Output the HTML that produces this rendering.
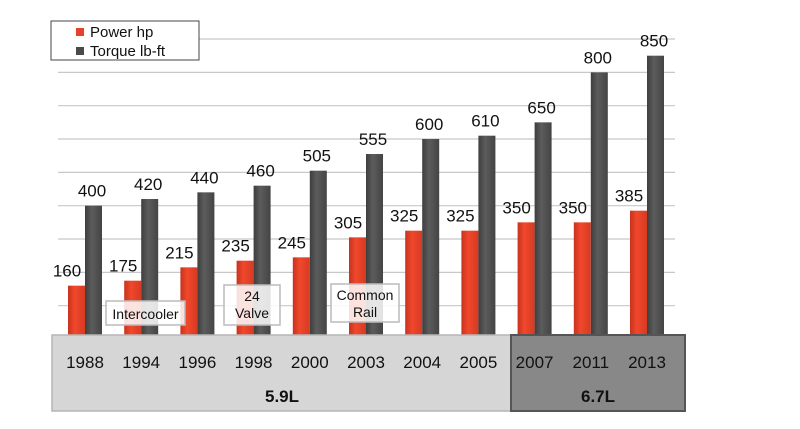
<!DOCTYPE html>
<html><head><meta charset="utf-8"><style>
body{margin:0;background:#fff;}
svg{display:block;font-family:"Liberation Sans",Arial,sans-serif;}
</style></head><body>
<svg id="c" width="800" height="429" viewBox="0 0 800 429">
<defs>
<linearGradient id="gr" x1="0" x2="1"><stop offset="0" stop-color="#c8321e"/><stop offset="0.4" stop-color="#f0482c"/><stop offset="1" stop-color="#d63a22"/></linearGradient>
<linearGradient id="gg" x1="0" x2="1"><stop offset="0" stop-color="#3e3e3e"/><stop offset="0.4" stop-color="#5c5c5c"/><stop offset="1" stop-color="#444"/></linearGradient>
</defs>
<g id="grid"></g>
<g id="bars"></g>
<g id="labels"></g>
</svg>
<script>
const categories=["1988","1994","1996","1998","2000","2003","2004","2005","2007","2011","2013"];
const power=[160,175,215,235,245,305,325,325,350,350,385];
const torque=[400,420,440,460,505,555,600,610,650,800,850];
const yTicks=[0,100,200,300,400,500,600,700,800,900];
const NS="http://www.w3.org/2000/svg";
const svg=document.getElementById('c');
const base=339,unit=0.3333;
function y(v){return base-v*unit;}
function x(i){return 85+i*56.2;}
function mk(tag,attrs,parent,txt){const e=document.createElementNS(NS,tag);for(const k in attrs)e.setAttribute(k,attrs[k]);if(txt!==undefined)e.textContent=txt;(parent||svg).appendChild(e);return e;}
const grid=document.getElementById('grid'),bars=document.getElementById('bars'),labels=document.getElementById('labels');
yTicks.forEach(t=>{const l=mk('line',{x1:58,x2:675,y1:y(t),y2:y(t),stroke:'#c8c8c8','stroke-width':1.2},grid);

});
categories.forEach((c,i)=>{
 const r=mk('rect',{x:x(i)-17,y:y(power[i]),width:17,height:power[i]*unit,fill:'url(#gr)'},bars);
 
 
 const g=mk('rect',{x:x(i),y:y(torque[i]),width:17,height:torque[i]*unit,fill:'url(#gg)'},bars);
 
 
 const pl=mk('text',{x:x(i)-18,y:y(power[i])-9,'text-anchor':'middle','font-size':17,fill:'#111'},labels,String(power[i]));
 
 
 const tl=mk('text',{x:x(i)+7,y:y(torque[i])-9,'text-anchor':'middle','font-size':17,fill:'#111'},labels,String(torque[i]));
 
 
});
// bottom boxes
const b1=mk('rect',{x:52,y:335,width:459,height:76,fill:'#d6d6d6',stroke:'#b5b5b5','stroke-width':1.5});


const b2=mk('rect',{x:511,y:335,width:174,height:76,fill:'#888',stroke:'#555','stroke-width':2});


categories.forEach((c,i)=>{const t=mk('text',{x:x(i),y:368,'text-anchor':'middle','font-size':17,fill:'#111'},null,c);

});
const g1=mk('text',{x:282,y:402,'text-anchor':'middle','font-size':17,'font-weight':'bold',fill:'#111'},null,'5.9L');


const g2=mk('text',{x:598,y:402,'text-anchor':'middle','font-size':17,'font-weight':'bold',fill:'#111'},null,'6.7L');


// annotations
function note(name,bx,by,bw,bh,lines){
 const g=mk('g',{});
 
 
 mk('rect',{x:bx,y:by,width:bw,height:bh,fill:'rgba(255,255,255,0.85)',stroke:'#bbb','stroke-width':1.5},g);
 lines.forEach((l,k)=>mk('text',{x:bx+bw/2,y:by+(lines.length==1?18:16+k*17),'text-anchor':'middle','font-size':14,fill:'#111'},g,l));
}
note('intercooler-note',106,301,79,24,['Intercooler']);
note('24-valve-note',224,285,56,40,['24','Valve']);
note('common-rail-note',331,284,68,38,['Common','Rail']);
// legend
const lg=mk('g',{});


mk('rect',{x:51,y:21,width:148,height:39,fill:'#fff',stroke:'#444','stroke-width':1},lg);
mk('rect',{x:76,y:28,width:8,height:8,fill:'#e8402a'},lg);
mk('text',{x:90,y:37,'font-size':15,fill:'#111'},lg,'Power  hp');
mk('rect',{x:76,y:47,width:8,height:8,fill:'#4a4a4a'},lg);
mk('text',{x:90,y:56,'font-size':15,fill:'#111'},lg,'Torque lb-ft');
</script>
</body></html>
